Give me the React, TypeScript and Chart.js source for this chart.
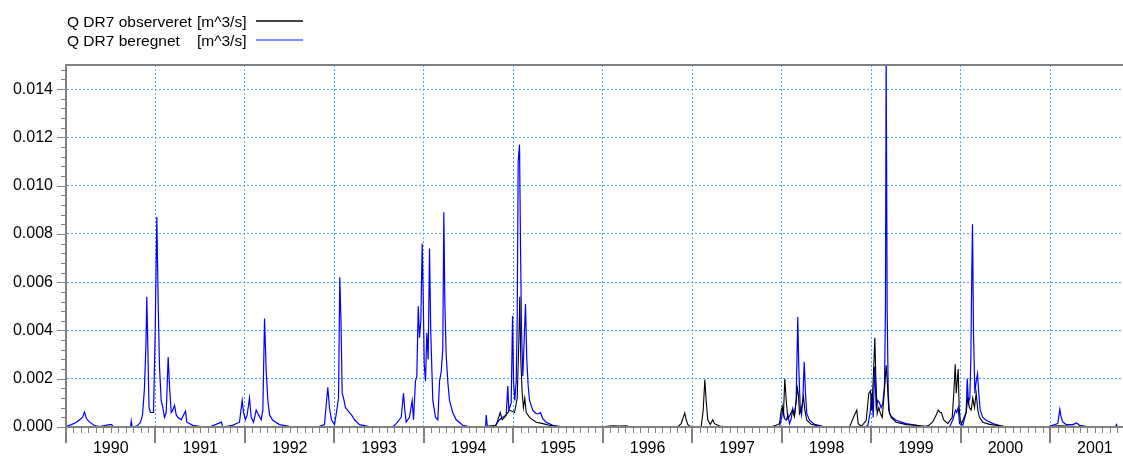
import React, { useEffect, useRef } from 'react';
import { Chart, registerables } from 'chart.js';

Chart.register(...registerables);

// ---------- data ----------
const seriesNames = ['Q DR7 observeret', 'Q DR7 beregnet'];
const unitLabel = '[m^3/s]';

const xMinYear = 1990;
const xMaxYear = 2001.814;
const yMax = 0.015;

// observed (decimal year, flow m^3/s)
const obsYears = [
  1994.678, 1994.808, 1994.853, 1994.875, 1994.901, 1994.957, 1995.013, 1995.043, 1995.061, 1995.072,
  1995.083, 1995.099, 1995.113, 1995.128, 1995.144, 1995.181, 1995.255, 1995.329, 1995.404, 1995.479,
  1995.516, 1995.963, 1996.108, 1996.186, 1996.265, 1996.298, 1996.835, 1996.876, 1996.894, 1996.916,
  1996.932, 1996.95, 1996.977, 1997.081, 1997.1, 1997.122, 1997.14, 1997.155, 1997.173, 1997.2,
  1997.229, 1997.248, 1997.304, 1997.416, 1997.863, 1997.93, 1997.975, 1997.994, 1998.005, 1998.019,
  1998.034, 1998.05, 1998.068, 1998.094, 1998.117, 1998.142, 1998.161, 1998.176, 1998.187, 1998.198,
  1998.217, 1998.243, 1998.258, 1998.28, 1998.329, 1998.422, 1998.534, 1998.757, 1998.813, 1998.839,
  1998.854, 1998.891, 1998.944, 1998.973, 1998.992, 1999.006, 1999.025, 1999.04, 1999.051, 1999.067,
  1999.085, 1999.104, 1999.123, 1999.145, 1999.167, 1999.182, 1999.196, 1999.223, 1999.279, 1999.391,
  1999.503, 1999.614, 1999.643, 1999.685, 1999.726, 1999.749, 1999.771, 1999.785, 1999.808, 1999.856,
  1999.905, 1999.923, 1999.939, 1999.95, 1999.961, 1999.972, 1999.983, 1999.994, 2000.009, 2000.061,
  2000.079, 2000.098, 2000.117, 2000.135, 2000.154, 2000.173, 2000.191, 2000.21, 2000.247, 2000.322,
  2000.434, 2000.545, 2000.937, 2001.0, 2001.1, 2001.25, 2001.4,
];
const obsFlow = [
  0, 0.00007, 0.0006, 0.0003, 0.0004, 0.0007, 0.0006, 0.0012, 0.0035, 0.0054,
  0.0028, 0.0014, 0.0008, 0.0012, 0.0006, 0.0004, 0.0002, 0.00014, 0.00007, 0.00002,
  0, 0, 0.00005, 0.00004, 0.00005, 0, 0, 0.00014, 0.00035, 0.00058,
  0.0003, 0.0001, 0.00003, 0, 0.00003, 0.0007, 0.00197, 0.0011, 0.0003, 0.0001,
  0.0003, 0.00014, 0.00004, 0, 0, 0.00006, 0.00014, 0.0007, 0.00083, 0.00055,
  0.002, 0.0011, 0.00035, 0.0005, 0.0007, 0.00042, 0.0011, 0.0016, 0.0013, 0.00055,
  0.0007, 0.00125, 0.0007, 0.00028, 0.00011, 0.00003, 0, 0, 0.0005, 0.0007,
  0.00014, 0.00003, 0.00028, 0.0014, 0.0015, 0.0007, 0.0022, 0.0037, 0.0021, 0.00055,
  0.0008, 0.00055, 0.0004, 0.0014, 0.00256, 0.0017, 0.0007, 0.0004, 0.0002, 0.0001,
  0.00007, 0.00003, 0.00007, 0.0002, 0.0005, 0.0007, 0.0006, 0.0006, 0.0003, 0.00014,
  0.0004, 0.0014, 0.0026, 0.0014, 0.0019, 0.0024, 0.0008, 0.0003, 0.00014, 0.0006,
  0.0012, 0.0008, 0.0007, 0.0012, 0.0008, 0.0014, 0.0007, 0.0004, 0.0002, 0.00011,
  0.00005, 0, 0, 0.00003, 0.00005, 0.00003, 0,
];

// simulated (decimal year, flow m^3/s)
const simYears = [
  1990.0, 1990.061, 1990.117, 1990.151, 1990.184, 1990.207, 1990.229, 1990.263, 1990.319, 1990.374,
  1990.486, 1990.509, 1990.531, 1990.721, 1990.729, 1990.738, 1990.799, 1990.833, 1990.855, 1990.877,
  1990.894, 1990.903, 1990.913, 1990.928, 1990.944, 1990.978, 1990.997, 1991.015, 1991.031, 1991.045,
  1991.064, 1991.082, 1991.101, 1991.12, 1991.142, 1991.157, 1991.176, 1991.194, 1991.213, 1991.232,
  1991.25, 1991.288, 1991.336, 1991.35, 1991.417, 1991.492, 1991.604, 1991.738, 1991.749, 1991.861,
  1991.939, 1991.969, 1991.984, 1992.006, 1992.025, 1992.051, 1992.07, 1992.096, 1992.126, 1992.155,
  1992.182, 1992.2, 1992.219, 1992.238, 1992.256, 1992.275, 1992.311, 1992.386, 1992.498, 1992.61,
  1992.811, 1992.889, 1992.926, 1992.945, 1992.967, 1993.001, 1993.023, 1993.046, 1993.06, 1993.074,
  1993.087, 1993.102, 1993.124, 1993.146, 1993.169, 1993.191, 1993.225, 1993.28, 1993.392, 1993.448,
  1993.649, 1993.691, 1993.747, 1993.772, 1993.787, 1993.802, 1993.839, 1993.869, 1993.884, 1993.906,
  1993.921, 1993.937, 1993.951, 1993.966, 1993.981, 1993.992, 1994.004, 1994.018, 1994.033, 1994.048,
  1994.063, 1994.077, 1994.1, 1994.13, 1994.156, 1994.175, 1994.194, 1994.211, 1994.223, 1994.234,
  1994.249, 1994.267, 1994.286, 1994.323, 1994.361, 1994.435, 1994.532, 1994.689, 1994.697, 1994.708,
  1994.789, 1994.845, 1994.882, 1994.92, 1994.938, 1994.949, 1994.976, 1994.991, 1995.002, 1995.016,
  1995.032, 1995.043, 1995.054, 1995.069, 1995.08, 1995.091, 1995.106, 1995.125, 1995.136, 1995.15,
  1995.166, 1995.181, 1995.217, 1995.255, 1995.284, 1995.303, 1995.329, 1995.367, 1995.441, 1995.516,
  1995.549, 1997.93, 1997.975, 1998.0, 1998.012, 1998.031, 1998.05, 1998.068, 1998.087, 1998.106,
  1998.123, 1998.142, 1998.161, 1998.179, 1998.19, 1998.206, 1998.221, 1998.235, 1998.251, 1998.265,
  1998.28, 1998.31, 1998.366, 1998.459, 1998.534, 1998.936, 1998.962, 1998.988, 1999.006, 1999.022,
  1999.037, 1999.056, 1999.073, 1999.092, 1999.111, 1999.129, 1999.148, 1999.159, 1999.167, 1999.178,
  1999.19, 1999.204, 1999.234, 1999.279, 1999.335, 1999.391, 1999.503, 1999.559, 1999.875, 1999.912,
  1999.942, 1999.956, 1999.972, 1999.987, 2000.023, 2000.061, 2000.073, 2000.087, 2000.102, 2000.113,
  2000.124, 2000.132, 2000.143, 2000.158, 2000.173, 2000.188, 2000.202, 2000.218, 2000.247, 2000.285,
  2000.359, 2000.467, 2000.545, 2000.937, 2000.993, 2001.085, 2001.108, 2001.123, 2001.141, 2001.179,
  2001.253, 2001.294, 2001.328, 2001.403, 2001.495, 2001.73, 2001.741, 2001.753,
];
const simFlow = [
  0.00003, 0.0001, 0.0002, 0.0003, 0.0004, 0.00062, 0.00035, 0.0002, 0.00006, 0.00002,
  0.0001, 0.0001, 0, 0, 0.00025, 0, 0.00005, 0.0002, 0.0005, 0.0016,
  0.0035, 0.0054, 0.0036, 0.0008, 0.0006, 0.0006, 0.004, 0.0087, 0.005, 0.0025,
  0.0011, 0.0008, 0.0004, 0.0006, 0.0029, 0.0017, 0.0006, 0.0007, 0.0009, 0.0005,
  0.0004, 0.0003, 0.00066, 0.0002, 0.00007, 0.00003, 0, 0.0002, 0, 0.00007,
  0.0002, 0.0011, 0.0006, 0.0003, 0.0005, 0.0012, 0.0004, 0.0002, 0.0007, 0.00048,
  0.0003, 0.0007, 0.0045, 0.0023, 0.0011, 0.0005, 0.00028, 0.0001, 0.00003, 0,
  0, 0.0001, 0.00165, 0.0008, 0.0003, 0.0001, 0.0006, 0.0012, 0.0062, 0.0043,
  0.0014, 0.0012, 0.0008, 0.0007, 0.0006, 0.0005, 0.0003, 0.0001, 0.00002, 0,
  0, 0.00014, 0.0004, 0.0014, 0.0007, 0.0002, 0.0004, 0.0011, 0.0003, 0.0019,
  0.0021, 0.005, 0.0037, 0.0044, 0.0076, 0.0055, 0.0026, 0.0019, 0.0039, 0.0028,
  0.0074, 0.0039, 0.0011, 0.0004, 0.0003, 0.0019, 0.0023, 0.0032, 0.0089, 0.0052,
  0.003, 0.0019, 0.0011, 0.0006, 0.0003, 0.00007, 0, 0, 0.0005, 0.00005,
  0.00003, 0.0003, 0.0004, 0.0005, 0.0017, 0.0007, 0.001, 0.0046, 0.0019, 0.0011,
  0.0019, 0.0044, 0.011, 0.0117, 0.0075, 0.0041, 0.0021, 0.004, 0.0051, 0.0028,
  0.0017, 0.0011, 0.0007, 0.00055, 0.00055, 0.0006, 0.00035, 0.0002, 0.00007, 0.00003,
  0, 0, 0.00003, 0.0004, 0.00083, 0.00035, 0.00028, 0.0005, 0.00014, 0.00035,
  0.00076, 0.0005, 0.0011, 0.00456, 0.0025, 0.00083, 0.0005, 0.0011, 0.0027, 0.0014,
  0.00055, 0.00028, 0.00011, 0.00003, 0, 0, 0.00007, 0.0006, 0.0014, 0.0004,
  0.0025, 0.0008, 0.0011, 0.001, 0.0008, 0.00097, 0.0017, 0.0049, 0.0155, 0.0049,
  0.0014, 0.00055, 0.0004, 0.00028, 0.0002, 0.00014, 0.00007, 0, 0, 0.0003,
  0.0007, 0.0006, 0.0008, 0.00014, 0.00007, 0.0006, 0.002, 0.001, 0.0012, 0.0028,
  0.0064, 0.0084, 0.0039, 0.0014, 0.0019, 0.0022, 0.0014, 0.0007, 0.0004, 0.00028,
  0.00014, 0.00003, 0, 0, 0.00003, 0.00014, 0.00073, 0.0004, 0.00021, 0.0001,
  0.0001, 0.00017, 0.00007, 0.00003, 0, 0, 0.0001, 0,
];

// tick definitions
const monthsPerYear = 12;
const yMinorStep = 0.0004;
const yMinorPerMajor = 5;

// ---------- styles ----------
const FONT = '"Liberation Sans", Arial, Helvetica, sans-serif';
const GRID_BLUE = '#4da6ff';
const AXIS_GRAY = '#808080';
const OBS_COLOR = '#000000';
const SIM_COLOR = '#0000ff';

const toPoints = (xs: number[], ys: number[]) => xs.map((x, i) => ({ x, y: ys[i] }));

const xTickValues = (() => {
  const out: number[] = [];
  const n = Math.floor((xMaxYear - xMinYear) * monthsPerYear + 1e-6);
  for (let m = 0; m <= n; m++) out.push(xMinYear + m / monthsPerYear);
  return out;
})();
const yTickValues = (() => {
  const out: number[] = [];
  const n = Math.floor(yMax / yMinorStep - 1e-6);
  for (let k = 0; k <= n; k++) out.push(k * yMinorStep);
  return out;
})();

const tickMarksPlugin = {
  id: 'tickMarks',
  afterDraw(chart: any) {
    const { ctx, chartArea: a, scales } = chart;
    const x = scales.x;
    const y = scales.y;
    ctx.save();
    ctx.strokeStyle = AXIS_GRAY;
    x.ticks.forEach((t: any, i: number) => {
      const major = i % monthsPerYear === 0;
      const px = Math.round(x.getPixelForValue(t.value));
      ctx.lineWidth = major ? 2 : 1;
      ctx.beginPath();
      const xx = major ? px : px + 0.5;
      ctx.moveTo(xx, a.bottom + 1);
      ctx.lineTo(xx, a.bottom + (major ? 16 : 6));
      ctx.stroke();
    });
    y.ticks.forEach((t: any, i: number) => {
      const major = i % yMinorPerMajor === 0;
      const py = Math.round(y.getPixelForValue(t.value)) + 0.5;
      ctx.lineWidth = 1;
      ctx.beginPath();
      ctx.moveTo(a.left - 1, py);
      ctx.lineTo(a.left - (major ? 9 : 5), py);
      ctx.stroke();
    });
    // top frame line
    ctx.lineWidth = 2;
    ctx.beginPath();
    ctx.moveTo(a.left - 1, a.top);
    ctx.lineTo(a.right, a.top);
    ctx.stroke();
    ctx.restore();
  },
};

export default function App() {
  const ref = useRef<HTMLCanvasElement>(null);

  useEffect(() => {
    document.body.style.margin = '0';
    Chart.defaults.font.family = FONT;
    const chart = new Chart(ref.current as HTMLCanvasElement, {
      type: 'line',
      data: {
        datasets: [
          {
            label: seriesNames[0],
            data: toPoints(obsYears, obsFlow),
            borderColor: OBS_COLOR,
            borderWidth: 1.1,
            pointRadius: 0,
            pointHoverRadius: 0,
            tension: 0,
          },
          {
            label: seriesNames[1],
            data: toPoints(simYears, simFlow),
            borderColor: SIM_COLOR,
            borderWidth: 1.2,
            pointRadius: 0,
            pointHoverRadius: 0,
            tension: 0,
          },
        ],
      },
      options: {
        animation: false,
        responsive: false,
        devicePixelRatio: 1,
        layout: { autoPadding: false, padding: { top: 65, left: 0, right: 0, bottom: 0 } },
        plugins: { legend: { display: false }, tooltip: { enabled: false } },
        scales: {
          x: {
            type: 'linear',
            min: xMinYear,
            max: xMaxYear,
            afterBuildTicks: (s: any) => {
              s.ticks = xTickValues.map((v) => ({ value: v }));
            },
            afterFit: (s: any) => {
              s.height = 29;
              s.paddingLeft = 0;
              s.paddingRight = 0;
            },
            ticks: {
              autoSkip: false,
              maxRotation: 0,
              minRotation: 0,
              padding: 12,
              color: '#000',
              font: { size: 16, family: FONT },
              callback: (_v: any, i: number) =>
                i % monthsPerYear === monthsPerYear / 2 ? String(xMinYear + Math.floor(i / monthsPerYear)) : '',
            },
            grid: {
              drawTicks: false,
              lineWidth: 1,
              color: (c: any) => (c.index % monthsPerYear === 0 ? GRID_BLUE : 'rgba(0,0,0,0)'),
            },
            border: { display: true, color: AXIS_GRAY, width: 2, dash: [2, 2], z: 1 },
          },
          y: {
            type: 'linear',
            min: 0,
            max: yMax,
            afterBuildTicks: (s: any) => {
              s.ticks = yTickValues.map((v) => ({ value: v }));
            },
            afterFit: (s: any) => {
              s.width = 66;
            },
            ticks: {
              autoSkip: false,
              padding: 13,
              color: '#000',
              font: { size: 16, family: FONT },
              callback: (v: any, i: number) => (i % yMinorPerMajor === 0 ? Number(v).toFixed(3) : ''),
            },
            grid: {
              drawTicks: false,
              lineWidth: 1,
              color: (c: any) => (c.index % yMinorPerMajor === 0 ? GRID_BLUE : 'rgba(0,0,0,0)'),
            },
            border: { display: true, color: AXIS_GRAY, width: 2, dash: [2, 2], z: 1 },
          },
        },
      },
      plugins: [tickMarksPlugin],
    } as any);
    return () => chart.destroy();
  }, []);

  const textStyle: React.CSSProperties = {
    position: 'absolute',
    fontSize: 15.5,
    lineHeight: '19px',
    color: '#000',
    whiteSpace: 'pre',
    fontFamily: FONT,
  };

  return (
    <div style={{ position: 'relative', width: 1123, height: 456, background: '#fff', overflow: 'hidden' }}>
      <canvas ref={ref} width={1123} height={456} style={{ position: 'absolute', left: 0, top: 0 }} />
      <div style={{ ...textStyle, left: 67, top: 12 }}>{seriesNames[0]}</div>
      <div style={{ ...textStyle, left: 197, top: 12 }}>{unitLabel}</div>
      <div style={{ position: 'absolute', left: 256, top: 20, width: 47, height: 2, background: '#444' }} />
      <div style={{ ...textStyle, left: 67, top: 31 }}>{seriesNames[1]}</div>
      <div style={{ ...textStyle, left: 197, top: 31 }}>{unitLabel}</div>
      <div style={{ position: 'absolute', left: 256, top: 39, width: 47, height: 2, background: '#8888ff' }} />
    </div>
  );
}
